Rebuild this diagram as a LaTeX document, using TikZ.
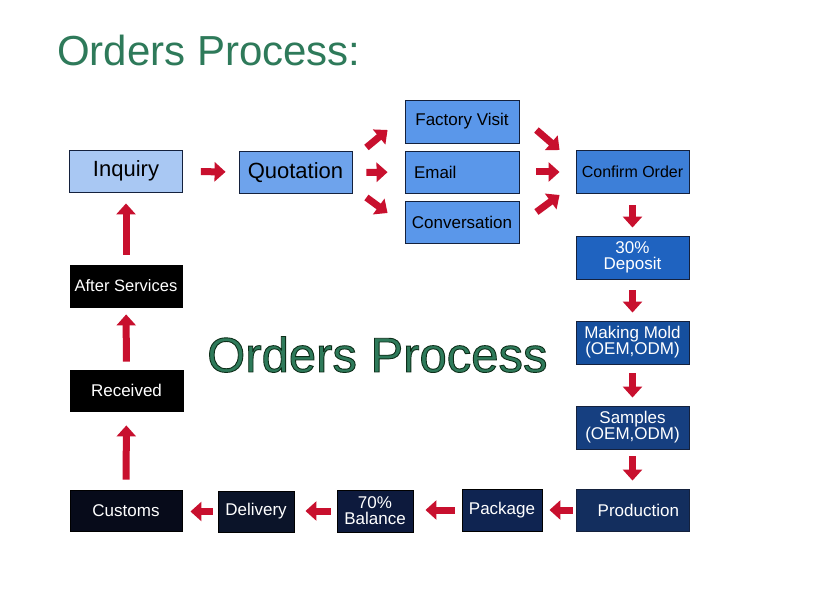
\documentclass[tikz,border=0pt]{standalone}
\usepackage{fontspec}
\setmainfont{Liberation Sans}
\usetikzlibrary{arrows.meta}

\definecolor{titlegreen}{HTML}{2E7A5A}
\definecolor{arrowred}{HTML}{C8102E}
\definecolor{boxline}{HTML}{14213D}
\definecolor{inqblue}{HTML}{A9C8F3}
\definecolor{quoblue}{HTML}{6EA3EC}
\definecolor{optblue}{HTML}{5A97EA}
\definecolor{cnfblue}{HTML}{3D7FD8}
\definecolor{depblue}{HTML}{1F63C0}
\definecolor{mldblue}{HTML}{154F9E}
\definecolor{smpblue}{HTML}{163F80}
\definecolor{prdblue}{HTML}{132E5E}
\definecolor{pkgblue}{HTML}{0F2451}
\definecolor{balblue}{HTML}{0D1A3D}
\definecolor{dlvblue}{HTML}{0B1429}
\definecolor{cusblue}{HTML}{070B1A}

% outlined text (fill + stroke)
\newcommand{\outlined}[1]{\special{pdf:code 2 Tr 0.9 w 0.05 0.18 0.1 RG}#1\special{pdf:code 0 Tr}}

\begin{document}
\begin{tikzpicture}[x=1pt,y=-1pt,
    box/.style={draw=boxline, line width=0.9pt, inner sep=0pt, align=center,
                minimum width=113pt, minimum height=42pt,
                font=\fontsize{17}{16}\selectfont},
    litebox/.style={box, text=black},
    darkbox/.style={box, draw=black, text=white},
    redarrow/.style={draw=arrowred, line width=7pt,
                     -{Triangle[length=11pt,width=19pt]}}]
  \useasboundingbox[fill=white] (0,0) rectangle (835,593);

  %--- Titles ---
  \node[anchor=base west, inner sep=0pt, text=titlegreen,
        font=\fontsize{42}{42}\selectfont] (title) at (57,66) {Orders Process:};
  \node[anchor=base west, inner sep=0pt, text=titlegreen,
        font=\fontsize{49}{49}\selectfont] (centre) at (207,372) {\outlined{Orders Process}};

  %--- Top row ---
  \node[litebox, fill=inqblue, font=\fontsize{22}{22}\selectfont] (inq) at (126,171) {Inquiry};
  \node[litebox, fill=quoblue, font=\fontsize{22}{22}\selectfont] (quo) at (295.5,172.5) {Quotation};
  \node[litebox, fill=optblue, minimum width=114pt, minimum height=43pt] (fac) at (462,121.5) {Factory Visit};
  \node[litebox, fill=optblue, text width=96pt, align=left, inner xsep=9pt,
        minimum width=114pt] (ema) at (462,172) {Email};
  \node[litebox, fill=optblue, minimum width=114pt] (con) at (462,222) {Conversation};
  \node[litebox, fill=cnfblue, minimum height=43pt, font=\fontsize{16}{16}\selectfont] (cnf) at (632.5,171.5) {Confirm Order};

  %--- Right column ---
  \node[darkbox, draw=boxline, fill=depblue, minimum height=43pt] (dep) at (632.5,257.5) {30\%\\Deposit};
  \node[darkbox, draw=boxline, fill=mldblue, minimum height=43pt] (mld) at (632.5,342.5) {Making Mold\\(OEM,ODM)};
  \node[darkbox, draw=boxline, fill=smpblue, minimum height=43pt] (smp) at (632.5,427.5) {Samples\\(OEM,ODM)};
  \node[darkbox, draw=boxline, fill=prdblue, text width=93pt, align=right, inner xsep=10pt] (prd) at (632.5,510) {Production};

  %--- Bottom row ---
  \node[darkbox, fill=pkgblue, minimum width=80pt] (pkg) at (502,510) {Package};
  \node[darkbox, fill=balblue, minimum width=76pt] (bal) at (375,511) {70\%\\Balance};
  \node[darkbox, fill=dlvblue, minimum width=76pt, minimum height=41pt] (dlv) at (256,511.5) {Delivery};
  \node[darkbox, fill=cusblue, minimum width=112pt, minimum height=41pt] (cus) at (126,510.5) {Customs};

  %--- Left column ---
  \node[darkbox, fill=black, minimum height=41pt] (rcv) at (126.5,390.5) {Received};
  \node[darkbox, fill=black, minimum width=112pt, font=\fontsize{16.5}{16}\selectfont] (aft) at (126,286) {After Services};

  %--- Arrows along the top ---
  \draw[redarrow, shorten <=18pt, shorten >=13pt] (inq) -- (quo);
  \draw[redarrow] ([xshift=14pt,yshift=25pt]quo.east) -- ([xshift=-17pt,yshift=-8.5pt]fac.west);
  \draw[redarrow, shorten <=14pt, shorten >=17pt] (quo.east) -- (ema.west);
  \draw[redarrow] ([xshift=14pt,yshift=-25pt]quo.east) -- ([xshift=-17pt,yshift=9pt]con.west);
  \draw[redarrow] ([xshift=17pt,yshift=-8.5pt]fac.east) -- ([xshift=-16pt,yshift=21.5pt]cnf.west);
  \draw[redarrow, shorten <=17pt, shorten >=16pt] (ema.east) -- (cnf.west |- ema.east);
  \draw[redarrow] ([xshift=17pt,yshift=10pt]con.east) -- ([xshift=-16pt,yshift=-23.5pt]cnf.west);

  %--- Arrows down the right ---
  \draw[redarrow, shorten <=12pt, shorten >=8pt] (cnf) -- (dep);
  \draw[redarrow, shorten <=11pt, shorten >=8pt] (dep) -- (mld);
  \draw[redarrow, shorten <=9pt, shorten >=8pt] (mld) -- (smp);
  \draw[redarrow, shorten <=7pt, shorten >=8pt] (smp) -- (prd);

  %--- Arrows along the bottom ---
  \draw[redarrow, shorten <=3pt, shorten >=7pt] (prd.west) -- (pkg.east |- prd.west);
  \draw[redarrow, shorten <=7pt, shorten >=12pt] (pkg.west) -- (bal.east |- pkg.west);
  \draw[redarrow, shorten <=6pt, shorten >=11pt] (bal.west) -- (dlv.east |- bal.west);
  \draw[redarrow, shorten <=5pt, shorten >=8pt] (dlv.west) -- (cus.east |- dlv.west);

  %--- Arrows up the left ---
  \draw[redarrow, shorten <=10pt, shorten >=14pt] (cus) -- (rcv);
  \draw[redarrow, shorten <=8pt, shorten >=7pt] (rcv) -- (aft);
  \draw[redarrow, shorten <=10pt, shorten >=11pt] (aft) -- (inq);
\end{tikzpicture}
\end{document}
